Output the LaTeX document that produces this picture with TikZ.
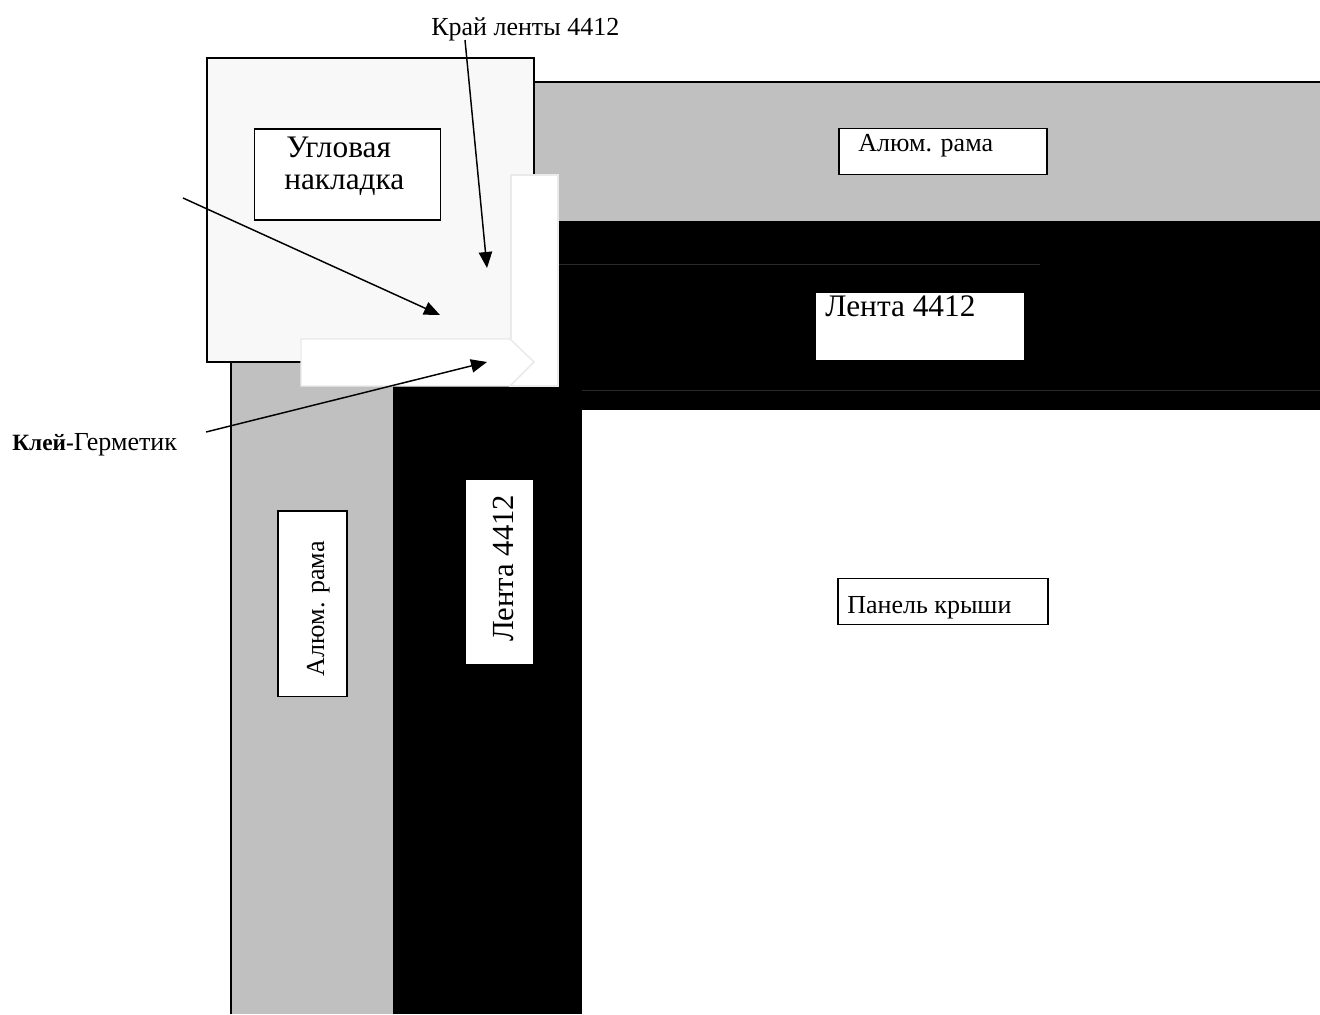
\documentclass[tikz,border=0pt]{standalone}
\usepackage{fontspec}
\setmainfont{Liberation Serif}
\usetikzlibrary{arrows.meta}
\definecolor{railgray}{HTML}{C0C0C0}
\definecolor{capfill}{HTML}{F8F8F8}
\definecolor{sealline}{HTML}{EAEAEA}
\definecolor{seam}{HTML}{2A2A2A}
\tikzset{
  x=0.75pt,y=-0.75pt,
  boxed/.style={draw=black,line width=1.4pt,fill=white},
  plain/.style={fill=white},
  seal/.style={draw=sealline,line width=1.1pt,fill=white},
  lbl/.style={inner sep=0pt,anchor=base west},
  pointer/.style={draw=black,line width=1.1pt,-{Triangle[length=12pt,width=10pt]},shorten >=0pt},
}
\begin{document}
\begin{tikzpicture}
\useasboundingbox (0,0) rectangle (1320,1014);
\fill[white] (0,0) rectangle (1320,1014);
% aluminium frame
\fill[railgray] (534,82) rectangle (1320,221);
\fill[railgray] (231,362) rectangle (393,1014);
\draw[black,line width=1.4pt] (534,82) -- (1320,82);
\draw[black,line width=1.4pt] (231,362) -- (231,1014);
% tape
\fill[black] (534,221) rectangle (1320,410);
\fill[black] (393,386) rectangle (582,1014);
\draw[seam,line width=0.4pt] (558,264) -- (1040,264);
\draw[seam,line width=0.4pt] (582,390) -- (1320,390);
% corner cover
\draw[black,line width=1.4pt,fill=capfill] (207,58) rectangle (534,362);
% sealant
\fill[white] (511,175) rectangle (558,386);
\draw[sealline,line width=1.1pt] (511,339) -- (511,175) -- (558,175) -- (558,386) -- (509,386);
\draw[seal] (301,339) -- (510,339) -- (534,362) -- (510,386) -- (301,386) -- cycle;
% labels
\node[boxed,inner sep=0pt] (capbox) at (347.5,174.5) {\rule{0pt}{68.2pt}\rule{139.5pt}{0pt}};
\node[lbl,font=\fontsize{23.5}{26}\selectfont] (captxt1) at (286,157) {Угловая};
\node[lbl,font=\fontsize{23.5}{26}\selectfont] (captxt2) at (284,189) {накладка};
\node[boxed,inner sep=0pt] (topbox) at (943,151.5) {\rule{0pt}{34.5pt}\rule{156.5pt}{0pt}};
\node[lbl,font=\fontsize{19.5}{22}\selectfont] (toptxt) at (858,151) {Алюм. рама};
\node[plain,inner sep=0pt] (tapebox) at (920,326.5) {\rule{0pt}{50.2pt}\rule{156pt}{0pt}};
\node[lbl,font=\fontsize{23.5}{26}\selectfont] (tapetxt) at (825,316) {Лента 4412};
\node[boxed,inner sep=0pt] (panelbox) at (943,601.5) {\rule{0pt}{34.5pt}\rule{157pt}{0pt}};
\node[lbl,font=\fontsize{19.5}{22}\selectfont] (paneltxt) at (847,613) {Панель крыши};
\node[boxed,inner sep=0pt] (leftbox) at (312.5,603.8) {\rule{0pt}{139pt}\rule{52pt}{0pt}};
\node[lbl,rotate=90,font=\fontsize{19.5}{22}\selectfont] (lefttxt) at (324,676.5) {Алюм. рама};
\node[plain,inner sep=0pt] (vtapebox) at (499.5,572) {\rule{0pt}{138pt}\rule{50pt}{0pt}};
\node[lbl,rotate=90,font=\fontsize{23}{26}\selectfont] (vtapetxt) at (513,642) {Лента 4412};
\node[lbl,font=\fontsize{19.5}{22}\selectfont] (edgetxt) at (431,35.5) {Край ленты 4412};
\node[lbl,font=\fontsize{19.5}{22}\selectfont] (gluetxt) at (12,450.5) {\textbf{\fontsize{17.5}{20}\selectfont Клей-}Герметик};
% pointers
\coordinate (edgefrom) at (465,40);
\coordinate (edgeto) at (487,268);
\coordinate (coverfrom) at (183,198);
\coordinate (coverto) at (440,315);
\coordinate (gluefrom) at (206,432);
\coordinate (glueto) at (487,362);
\draw[pointer] (edgefrom) -- (edgeto);
\draw[pointer] (coverfrom) -- (coverto);
\draw[pointer] (gluefrom) -- (glueto);
\end{tikzpicture}
\end{document}
